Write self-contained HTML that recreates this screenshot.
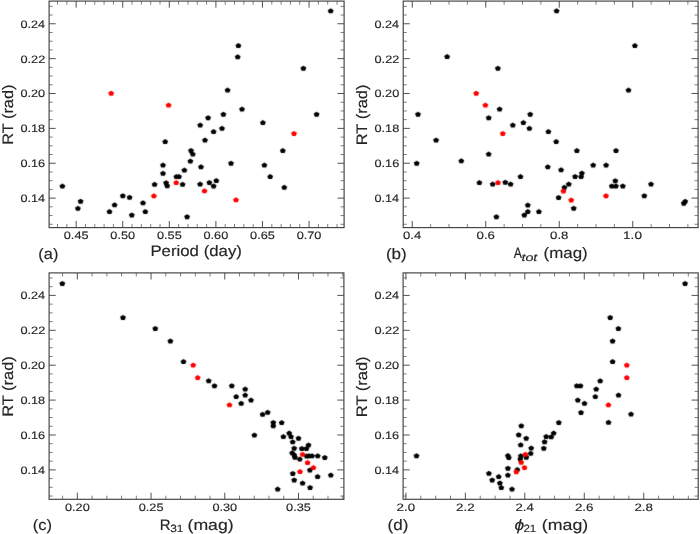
<!DOCTYPE html>
<html><head><meta charset="utf-8"><style>
html,body{margin:0;padding:0;background:#fff;overflow:hidden;}
svg{display:block;font-family:"Liberation Sans",sans-serif;will-change:transform;text-rendering:geometricPrecision;}
</style></head><body><svg width="700" height="534" viewBox="0 0 700 534"><defs><filter id="bl" x="0" y="0" width="700" height="534" filterUnits="userSpaceOnUse" color-interpolation-filters="sRGB"><feConvolveMatrix order="3" kernelMatrix="0.01134 0.08382 0.01134 0.08382 0.61935 0.08382 0.01134 0.08382 0.01134" divisor="1" edgeMode="duplicate"/></filter></defs><rect width="700" height="534" fill="#fff"/><path d="M76.15 227.60V221.00M76.15 1.10V7.70M122.73 227.60V221.00M122.73 1.10V7.70M169.31 227.60V221.00M169.31 1.10V7.70M215.90 227.60V221.00M215.90 1.10V7.70M262.48 227.60V221.00M262.48 1.10V7.70M309.07 227.60V221.00M309.07 1.10V7.70M49.10 198.12H55.70M344.10 198.12H337.50M49.10 163.25H55.70M344.10 163.25H337.50M49.10 128.38H55.70M344.10 128.38H337.50M49.10 93.50H55.70M344.10 93.50H337.50M49.10 58.63H55.70M344.10 58.63H337.50M49.10 23.76H55.70M344.10 23.76H337.50" stroke="#333" stroke-width="0.85" fill="none"/><path d="M57.51 227.60V224.00M57.51 1.10V4.70M66.83 227.60V224.00M66.83 1.10V4.70M85.46 227.60V224.00M85.46 1.10V4.70M94.78 227.60V224.00M94.78 1.10V4.70M104.10 227.60V224.00M104.10 1.10V4.70M113.41 227.60V224.00M113.41 1.10V4.70M132.05 227.60V224.00M132.05 1.10V4.70M141.36 227.60V224.00M141.36 1.10V4.70M150.68 227.60V224.00M150.68 1.10V4.70M160.00 227.60V224.00M160.00 1.10V4.70M178.63 227.60V224.00M178.63 1.10V4.70M187.95 227.60V224.00M187.95 1.10V4.70M197.26 227.60V224.00M197.26 1.10V4.70M206.58 227.60V224.00M206.58 1.10V4.70M225.21 227.60V224.00M225.21 1.10V4.70M234.53 227.60V224.00M234.53 1.10V4.70M243.85 227.60V224.00M243.85 1.10V4.70M253.17 227.60V224.00M253.17 1.10V4.70M271.80 227.60V224.00M271.80 1.10V4.70M281.12 227.60V224.00M281.12 1.10V4.70M290.43 227.60V224.00M290.43 1.10V4.70M299.75 227.60V224.00M299.75 1.10V4.70M318.38 227.60V224.00M318.38 1.10V4.70M327.70 227.60V224.00M327.70 1.10V4.70M337.02 227.60V224.00M337.02 1.10V4.70M49.10 224.27H52.70M344.10 224.27H340.50M49.10 215.55H52.70M344.10 215.55H340.50M49.10 206.84H52.70M344.10 206.84H340.50M49.10 189.40H52.70M344.10 189.40H340.50M49.10 180.68H52.70M344.10 180.68H340.50M49.10 171.97H52.70M344.10 171.97H340.50M49.10 154.53H52.70M344.10 154.53H340.50M49.10 145.81H52.70M344.10 145.81H340.50M49.10 137.09H52.70M344.10 137.09H340.50M49.10 119.66H52.70M344.10 119.66H340.50M49.10 110.94H52.70M344.10 110.94H340.50M49.10 102.22H52.70M344.10 102.22H340.50M49.10 84.79H52.70M344.10 84.79H340.50M49.10 76.07H52.70M344.10 76.07H340.50M49.10 67.35H52.70M344.10 67.35H340.50M49.10 49.91H52.70M344.10 49.91H340.50M49.10 41.20H52.70M344.10 41.20H340.50M49.10 32.48H52.70M344.10 32.48H340.50M49.10 15.04H52.70M344.10 15.04H340.50M49.10 6.33H52.70M344.10 6.33H340.50" stroke="#555" stroke-width="0.75" fill="none"/><g filter="url(#bl)"><polygon points="330.70,8.28 333.65,10.20 332.52,13.32 328.88,13.32 327.75,10.20" fill="#000"/><polygon points="238.40,43.08 241.35,45.00 240.22,48.12 236.58,48.12 235.45,45.00" fill="#000"/><polygon points="237.70,54.28 240.65,56.20 239.52,59.32 235.88,59.32 234.75,56.20" fill="#000"/><polygon points="303.40,65.68 306.35,67.60 305.22,70.72 301.58,70.72 300.45,67.60" fill="#000"/><polygon points="227.60,87.48 230.55,89.40 229.42,92.52 225.78,92.52 224.65,89.40" fill="#000"/><polygon points="242.00,106.58 244.95,108.50 243.82,111.62 240.18,111.62 239.05,108.50" fill="#000"/><polygon points="62.40,183.48 65.35,185.40 64.22,188.52 60.58,188.52 59.45,185.40" fill="#000"/><polygon points="80.60,198.68 83.55,200.60 82.42,203.72 78.78,203.72 77.65,200.60" fill="#000"/><polygon points="77.90,205.78 80.85,207.70 79.72,210.82 76.08,210.82 74.95,207.70" fill="#000"/><polygon points="109.50,209.08 112.45,211.00 111.32,214.12 107.68,214.12 106.55,211.00" fill="#000"/><polygon points="114.60,202.28 117.55,204.20 116.42,207.32 112.78,207.32 111.65,204.20" fill="#000"/><polygon points="122.80,193.18 125.75,195.10 124.62,198.22 120.98,198.22 119.85,195.10" fill="#000"/><polygon points="129.60,194.78 132.55,196.70 131.42,199.82 127.78,199.82 126.65,196.70" fill="#000"/><polygon points="131.80,212.38 134.75,214.30 133.62,217.42 129.98,217.42 128.85,214.30" fill="#000"/><polygon points="143.00,200.28 145.95,202.20 144.82,205.32 141.18,205.32 140.05,202.20" fill="#000"/><polygon points="145.30,209.08 148.25,211.00 147.12,214.12 143.48,214.12 142.35,211.00" fill="#000"/><polygon points="154.60,181.78 157.55,183.70 156.42,186.82 152.78,186.82 151.65,183.70" fill="#000"/><polygon points="165.20,139.08 168.15,141.00 167.02,144.12 163.38,144.12 162.25,141.00" fill="#000"/><polygon points="163.00,162.58 165.95,164.50 164.82,167.62 161.18,167.62 160.05,164.50" fill="#000"/><polygon points="163.00,170.78 165.95,172.70 164.82,175.82 161.18,175.82 160.05,172.70" fill="#000"/><polygon points="166.10,180.18 169.05,182.10 167.92,185.22 164.28,185.22 163.15,182.10" fill="#000"/><polygon points="167.20,183.18 170.15,185.10 169.02,188.22 165.38,188.22 164.25,185.10" fill="#000"/><polygon points="176.40,173.98 179.35,175.90 178.22,179.02 174.58,179.02 173.45,175.90" fill="#000"/><polygon points="179.00,173.98 181.95,175.90 180.82,179.02 177.18,179.02 176.05,175.90" fill="#000"/><polygon points="182.60,181.78 185.55,183.70 184.42,186.82 180.78,186.82 179.65,183.70" fill="#000"/><polygon points="184.40,167.48 187.35,169.40 186.22,172.52 182.58,172.52 181.45,169.40" fill="#000"/><polygon points="191.00,147.88 193.95,149.80 192.82,152.92 189.18,152.92 188.05,149.80" fill="#000"/><polygon points="192.80,151.48 195.75,153.40 194.62,156.52 190.98,156.52 189.85,153.40" fill="#000"/><polygon points="190.40,158.48 193.35,160.40 192.22,163.52 188.58,163.52 187.45,160.40" fill="#000"/><polygon points="187.10,214.18 190.05,216.10 188.92,219.22 185.28,219.22 184.15,216.10" fill="#000"/><polygon points="223.40,111.68 226.35,113.60 225.22,116.72 221.58,116.72 220.45,113.60" fill="#000"/><polygon points="208.10,115.18 211.05,117.10 209.92,120.22 206.28,120.22 205.15,117.10" fill="#000"/><polygon points="200.20,122.48 203.15,124.40 202.02,127.52 198.38,127.52 197.25,124.40" fill="#000"/><polygon points="213.60,129.08 216.55,131.00 215.42,134.12 211.78,134.12 210.65,131.00" fill="#000"/><polygon points="222.00,125.78 224.95,127.70 223.82,130.82 220.18,130.82 219.05,127.70" fill="#000"/><polygon points="205.00,137.48 207.95,139.40 206.82,142.52 203.18,142.52 202.05,139.40" fill="#000"/><polygon points="262.90,120.08 265.85,122.00 264.72,125.12 261.08,125.12 259.95,122.00" fill="#000"/><polygon points="316.60,111.68 319.55,113.60 318.42,116.72 314.78,116.72 313.65,113.60" fill="#000"/><polygon points="282.80,148.08 285.75,150.00 284.62,153.12 280.98,153.12 279.85,150.00" fill="#000"/><polygon points="201.00,164.28 203.95,166.20 202.82,169.32 199.18,169.32 198.05,166.20" fill="#000"/><polygon points="231.00,160.68 233.95,162.60 232.82,165.72 229.18,165.72 228.05,162.60" fill="#000"/><polygon points="264.40,162.48 267.35,164.40 266.22,167.52 262.58,167.52 261.45,164.40" fill="#000"/><polygon points="270.20,173.98 273.15,175.90 272.02,179.02 268.38,179.02 267.25,175.90" fill="#000"/><polygon points="284.30,184.78 287.25,186.70 286.12,189.82 282.48,189.82 281.35,186.70" fill="#000"/><polygon points="200.10,181.48 203.05,183.40 201.92,186.52 198.28,186.52 197.15,183.40" fill="#000"/><polygon points="209.40,179.88 212.35,181.80 211.22,184.92 207.58,184.92 206.45,181.80" fill="#000"/><polygon points="213.60,183.38 216.55,185.30 215.42,188.42 211.78,188.42 210.65,185.30" fill="#000"/><polygon points="216.30,178.08 219.25,180.00 218.12,183.12 214.48,183.12 213.35,180.00" fill="#000"/><polygon points="111.20,90.68 114.15,92.60 113.02,95.72 109.38,95.72 108.25,92.60" fill="#f00"/><polygon points="168.60,102.48 171.55,104.40 170.42,107.52 166.78,107.52 165.65,104.40" fill="#f00"/><polygon points="153.90,193.28 156.85,195.20 155.72,198.32 152.08,198.32 150.95,195.20" fill="#f00"/><polygon points="176.20,179.98 179.15,181.90 178.02,185.02 174.38,185.02 173.25,181.90" fill="#f00"/><polygon points="294.00,130.88 296.95,132.80 295.82,135.92 292.18,135.92 291.05,132.80" fill="#f00"/><polygon points="204.50,188.28 207.45,190.20 206.32,193.32 202.68,193.32 201.55,190.20" fill="#f00"/><polygon points="236.00,197.28 238.95,199.20 237.82,202.32 234.18,202.32 233.05,199.20" fill="#f00"/></g><rect x="49.10" y="1.10" width="295.00" height="226.50" fill="none" stroke="#404040" stroke-width="1.15"/><g font-size="10.8" fill="#262626" stroke="#262626" stroke-width="0.15"><text x="63.77" y="238.90" textLength="24.78" lengthAdjust="spacingAndGlyphs">0.45</text><text x="110.36" y="238.90" textLength="24.74" lengthAdjust="spacingAndGlyphs">0.50</text><text x="156.94" y="238.90" textLength="24.78" lengthAdjust="spacingAndGlyphs">0.55</text><text x="203.53" y="238.90" textLength="24.74" lengthAdjust="spacingAndGlyphs">0.60</text><text x="250.11" y="238.90" textLength="24.78" lengthAdjust="spacingAndGlyphs">0.65</text><text x="296.69" y="238.90" textLength="24.74" lengthAdjust="spacingAndGlyphs">0.70</text><text x="20.41" y="202.02" textLength="24.56" lengthAdjust="spacingAndGlyphs">0.14</text><text x="20.40" y="167.15" textLength="24.76" lengthAdjust="spacingAndGlyphs">0.16</text><text x="20.40" y="132.28" textLength="24.75" lengthAdjust="spacingAndGlyphs">0.18</text><text x="20.40" y="97.40" textLength="24.69" lengthAdjust="spacingAndGlyphs">0.20</text><text x="20.40" y="62.53" textLength="24.84" lengthAdjust="spacingAndGlyphs">0.22</text><text x="20.41" y="27.66" textLength="24.56" lengthAdjust="spacingAndGlyphs">0.24</text></g><path d="M412.25 227.60V221.00M412.25 1.10V7.70M485.75 227.60V221.00M485.75 1.10V7.70M559.26 227.60V221.00M559.26 1.10V7.70M632.76 227.60V221.00M632.76 1.10V7.70M403.20 198.12H409.80M698.10 198.12H691.50M403.20 163.25H409.80M698.10 163.25H691.50M403.20 128.38H409.80M698.10 128.38H691.50M403.20 93.50H409.80M698.10 93.50H691.50M403.20 58.63H409.80M698.10 58.63H691.50M403.20 23.76H409.80M698.10 23.76H691.50" stroke="#333" stroke-width="0.85" fill="none"/><path d="M430.62 227.60V224.00M430.62 1.10V4.70M449.00 227.60V224.00M449.00 1.10V4.70M467.38 227.60V224.00M467.38 1.10V4.70M504.13 227.60V224.00M504.13 1.10V4.70M522.50 227.60V224.00M522.50 1.10V4.70M540.88 227.60V224.00M540.88 1.10V4.70M577.63 227.60V224.00M577.63 1.10V4.70M596.01 227.60V224.00M596.01 1.10V4.70M614.38 227.60V224.00M614.38 1.10V4.70M651.14 227.60V224.00M651.14 1.10V4.70M669.51 227.60V224.00M669.51 1.10V4.70M687.89 227.60V224.00M687.89 1.10V4.70M403.20 224.27H406.80M698.10 224.27H694.50M403.20 215.55H406.80M698.10 215.55H694.50M403.20 206.84H406.80M698.10 206.84H694.50M403.20 189.40H406.80M698.10 189.40H694.50M403.20 180.68H406.80M698.10 180.68H694.50M403.20 171.97H406.80M698.10 171.97H694.50M403.20 154.53H406.80M698.10 154.53H694.50M403.20 145.81H406.80M698.10 145.81H694.50M403.20 137.09H406.80M698.10 137.09H694.50M403.20 119.66H406.80M698.10 119.66H694.50M403.20 110.94H406.80M698.10 110.94H694.50M403.20 102.22H406.80M698.10 102.22H694.50M403.20 84.79H406.80M698.10 84.79H694.50M403.20 76.07H406.80M698.10 76.07H694.50M403.20 67.35H406.80M698.10 67.35H694.50M403.20 49.91H406.80M698.10 49.91H694.50M403.20 41.20H406.80M698.10 41.20H694.50M403.20 32.48H406.80M698.10 32.48H694.50M403.20 15.04H406.80M698.10 15.04H694.50M403.20 6.33H406.80M698.10 6.33H694.50" stroke="#555" stroke-width="0.75" fill="none"/><g filter="url(#bl)"><polygon points="447.10,54.08 450.05,56.00 448.92,59.12 445.28,59.12 444.15,56.00" fill="#000"/><polygon points="497.90,65.68 500.85,67.60 499.72,70.72 496.08,70.72 494.95,67.60" fill="#000"/><polygon points="499.60,106.58 502.55,108.50 501.42,111.62 497.78,111.62 496.65,108.50" fill="#000"/><polygon points="556.60,8.28 559.55,10.20 558.42,13.32 554.78,13.32 553.65,10.20" fill="#000"/><polygon points="634.90,43.08 637.85,45.00 636.72,48.12 633.08,48.12 631.95,45.00" fill="#000"/><polygon points="628.50,87.48 631.45,89.40 630.32,92.52 626.68,92.52 625.55,89.40" fill="#000"/><polygon points="418.00,111.68 420.95,113.60 419.82,116.72 416.18,116.72 415.05,113.60" fill="#000"/><polygon points="488.70,115.18 491.65,117.10 490.52,120.22 486.88,120.22 485.75,117.10" fill="#000"/><polygon points="530.20,111.68 533.15,113.60 532.02,116.72 528.38,116.72 527.25,113.60" fill="#000"/><polygon points="512.80,122.48 515.75,124.40 514.62,127.52 510.98,127.52 509.85,124.40" fill="#000"/><polygon points="523.40,120.08 526.35,122.00 525.22,125.12 521.58,125.12 520.45,122.00" fill="#000"/><polygon points="529.40,125.78 532.35,127.70 531.22,130.82 527.58,130.82 526.45,127.70" fill="#000"/><polygon points="548.40,129.08 551.35,131.00 550.22,134.12 546.58,134.12 545.45,131.00" fill="#000"/><polygon points="436.10,137.48 439.05,139.40 437.92,142.52 434.28,142.52 433.15,139.40" fill="#000"/><polygon points="488.70,151.48 491.65,153.40 490.52,156.52 486.88,156.52 485.75,153.40" fill="#000"/><polygon points="416.70,160.68 419.65,162.60 418.52,165.72 414.88,165.72 413.75,162.60" fill="#000"/><polygon points="461.30,158.28 464.25,160.20 463.12,163.32 459.48,163.32 458.35,160.20" fill="#000"/><polygon points="547.80,164.28 550.75,166.20 549.62,169.32 545.98,169.32 544.85,166.20" fill="#000"/><polygon points="520.50,173.98 523.45,175.90 522.32,179.02 518.68,179.02 517.55,175.90" fill="#000"/><polygon points="479.40,179.98 482.35,181.90 481.22,185.02 477.58,185.02 476.45,181.90" fill="#000"/><polygon points="492.70,181.48 495.65,183.40 494.52,186.52 490.88,186.52 489.75,183.40" fill="#000"/><polygon points="505.30,179.68 508.25,181.60 507.12,184.72 503.48,184.72 502.35,181.60" fill="#000"/><polygon points="510.60,181.48 513.55,183.40 512.42,186.52 508.78,186.52 507.65,183.40" fill="#000"/><polygon points="527.80,202.48 530.75,204.40 529.62,207.52 525.98,207.52 524.85,204.40" fill="#000"/><polygon points="527.80,209.08 530.75,211.00 529.62,214.12 525.98,214.12 524.85,211.00" fill="#000"/><polygon points="524.30,212.38 527.25,214.30 526.12,217.42 522.48,217.42 521.35,214.30" fill="#000"/><polygon points="538.90,209.08 541.85,211.00 540.72,214.12 537.08,214.12 535.95,211.00" fill="#000"/><polygon points="496.40,214.18 499.35,216.10 498.22,219.22 494.58,219.22 493.45,216.10" fill="#000"/><polygon points="556.20,139.08 559.15,141.00 558.02,144.12 554.38,144.12 553.25,141.00" fill="#000"/><polygon points="576.90,148.08 579.85,150.00 578.72,153.12 575.08,153.12 573.95,150.00" fill="#000"/><polygon points="616.00,148.08 618.95,150.00 617.82,153.12 614.18,153.12 613.05,150.00" fill="#000"/><polygon points="561.10,167.28 564.05,169.20 562.92,172.32 559.28,172.32 558.15,169.20" fill="#000"/><polygon points="593.20,162.48 596.15,164.40 595.02,167.52 591.38,167.52 590.25,164.40" fill="#000"/><polygon points="606.10,162.48 609.05,164.40 607.92,167.52 604.28,167.52 603.15,164.40" fill="#000"/><polygon points="575.10,173.88 578.05,175.80 576.92,178.92 573.28,178.92 572.15,175.80" fill="#000"/><polygon points="581.90,170.48 584.85,172.40 583.72,175.52 580.08,175.52 578.95,172.40" fill="#000"/><polygon points="581.10,173.98 584.05,175.90 582.92,179.02 579.28,179.02 578.15,175.90" fill="#000"/><polygon points="568.80,181.48 571.75,183.40 570.62,186.52 566.98,186.52 565.85,183.40" fill="#000"/><polygon points="564.40,184.78 567.35,186.70 566.22,189.82 562.58,189.82 561.45,186.70" fill="#000"/><polygon points="558.60,194.88 561.55,196.80 560.42,199.92 556.78,199.92 555.65,196.80" fill="#000"/><polygon points="573.70,205.68 576.65,207.60 575.52,210.72 571.88,210.72 570.75,207.60" fill="#000"/><polygon points="615.30,178.18 618.25,180.10 617.12,183.22 613.48,183.22 612.35,180.10" fill="#000"/><polygon points="611.80,183.38 614.75,185.30 613.62,188.42 609.98,188.42 608.85,185.30" fill="#000"/><polygon points="615.90,183.38 618.85,185.30 617.72,188.42 614.08,188.42 612.95,185.30" fill="#000"/><polygon points="622.80,183.38 625.75,185.30 624.62,188.42 620.98,188.42 619.85,185.30" fill="#000"/><polygon points="651.00,181.58 653.95,183.50 652.82,186.62 649.18,186.62 648.05,183.50" fill="#000"/><polygon points="644.30,193.18 647.25,195.10 646.12,198.22 642.48,198.22 641.35,195.10" fill="#000"/><polygon points="683.80,200.68 686.75,202.60 685.62,205.72 681.98,205.72 680.85,202.60" fill="#000"/><polygon points="685.20,198.78 688.15,200.70 687.02,203.82 683.38,203.82 682.25,200.70" fill="#000"/><polygon points="476.20,90.68 479.15,92.60 478.02,95.72 474.38,95.72 473.25,92.60" fill="#f00"/><polygon points="485.40,102.48 488.35,104.40 487.22,107.52 483.58,107.52 482.45,104.40" fill="#f00"/><polygon points="502.80,130.88 505.75,132.80 504.62,135.92 500.98,135.92 499.85,132.80" fill="#f00"/><polygon points="498.00,179.98 500.95,181.90 499.82,185.02 496.18,185.02 495.05,181.90" fill="#f00"/><polygon points="563.40,188.38 566.35,190.30 565.22,193.42 561.58,193.42 560.45,190.30" fill="#f00"/><polygon points="571.20,197.38 574.15,199.30 573.02,202.42 569.38,202.42 568.25,199.30" fill="#f00"/><polygon points="606.00,193.18 608.95,195.10 607.82,198.22 604.18,198.22 603.05,195.10" fill="#f00"/></g><rect x="403.20" y="1.10" width="294.90" height="226.50" fill="none" stroke="#404040" stroke-width="1.15"/><g font-size="10.8" fill="#262626" stroke="#262626" stroke-width="0.15"><text x="403.09" y="238.90" textLength="18.19" lengthAdjust="spacingAndGlyphs">0.4</text><text x="476.59" y="238.90" textLength="18.40" lengthAdjust="spacingAndGlyphs">0.6</text><text x="550.09" y="238.90" textLength="18.39" lengthAdjust="spacingAndGlyphs">0.8</text><text x="623.08" y="238.90" textLength="18.86" lengthAdjust="spacingAndGlyphs">1.0</text><text x="374.51" y="202.02" textLength="24.56" lengthAdjust="spacingAndGlyphs">0.14</text><text x="374.50" y="167.15" textLength="24.76" lengthAdjust="spacingAndGlyphs">0.16</text><text x="374.50" y="132.28" textLength="24.75" lengthAdjust="spacingAndGlyphs">0.18</text><text x="374.50" y="97.40" textLength="24.69" lengthAdjust="spacingAndGlyphs">0.20</text><text x="374.50" y="62.53" textLength="24.84" lengthAdjust="spacingAndGlyphs">0.22</text><text x="374.51" y="27.66" textLength="24.56" lengthAdjust="spacingAndGlyphs">0.24</text></g><path d="M77.34 499.30V492.70M77.34 272.90V279.50M151.06 499.30V492.70M151.06 272.90V279.50M224.78 499.30V492.70M224.78 272.90V279.50M298.49 499.30V492.70M298.49 272.90V279.50M49.10 469.88H55.70M343.90 469.88H337.30M49.10 434.99H55.70M343.90 434.99H337.30M49.10 400.09H55.70M343.90 400.09H337.30M49.10 365.20H55.70M343.90 365.20H337.30M49.10 330.30H55.70M343.90 330.30H337.30M49.10 295.41H55.70M343.90 295.41H337.30" stroke="#333" stroke-width="0.85" fill="none"/><path d="M62.60 499.30V495.70M62.60 272.90V276.50M92.09 499.30V495.70M92.09 272.90V276.50M106.83 499.30V495.70M106.83 272.90V276.50M121.57 499.30V495.70M121.57 272.90V276.50M136.32 499.30V495.70M136.32 272.90V276.50M165.80 499.30V495.70M165.80 272.90V276.50M180.55 499.30V495.70M180.55 272.90V276.50M195.29 499.30V495.70M195.29 272.90V276.50M210.03 499.30V495.70M210.03 272.90V276.50M239.52 499.30V495.70M239.52 272.90V276.50M254.26 499.30V495.70M254.26 272.90V276.50M269.01 499.30V495.70M269.01 272.90V276.50M283.75 499.30V495.70M283.75 272.90V276.50M313.24 499.30V495.70M313.24 272.90V276.50M327.98 499.30V495.70M327.98 272.90V276.50M342.72 499.30V495.70M342.72 272.90V276.50M49.10 496.06H52.70M343.90 496.06H340.30M49.10 487.33H52.70M343.90 487.33H340.30M49.10 478.61H52.70M343.90 478.61H340.30M49.10 461.16H52.70M343.90 461.16H340.30M49.10 452.44H52.70M343.90 452.44H340.30M49.10 443.71H52.70M343.90 443.71H340.30M49.10 426.27H52.70M343.90 426.27H340.30M49.10 417.54H52.70M343.90 417.54H340.30M49.10 408.82H52.70M343.90 408.82H340.30M49.10 391.37H52.70M343.90 391.37H340.30M49.10 382.65H52.70M343.90 382.65H340.30M49.10 373.92H52.70M343.90 373.92H340.30M49.10 356.48H52.70M343.90 356.48H340.30M49.10 347.75H52.70M343.90 347.75H340.30M49.10 339.03H52.70M343.90 339.03H340.30M49.10 321.58H52.70M343.90 321.58H340.30M49.10 312.86H52.70M343.90 312.86H340.30M49.10 304.13H52.70M343.90 304.13H340.30M49.10 286.69H52.70M343.90 286.69H340.30M49.10 277.96H52.70M343.90 277.96H340.30" stroke="#555" stroke-width="0.75" fill="none"/><g filter="url(#bl)"><polygon points="62.30,280.88 65.25,282.80 64.12,285.92 60.48,285.92 59.35,282.80" fill="#000"/><polygon points="123.00,314.88 125.95,316.80 124.82,319.92 121.18,319.92 120.05,316.80" fill="#000"/><polygon points="155.30,325.88 158.25,327.80 157.12,330.92 153.48,330.92 152.35,327.80" fill="#000"/><polygon points="170.40,338.38 173.35,340.30 172.22,343.42 168.58,343.42 167.45,340.30" fill="#000"/><polygon points="183.50,358.98 186.45,360.90 185.32,364.02 181.68,364.02 180.55,360.90" fill="#000"/><polygon points="208.70,378.18 211.65,380.10 210.52,383.22 206.88,383.22 205.75,380.10" fill="#000"/><polygon points="214.50,383.18 217.45,385.10 216.32,388.22 212.68,388.22 211.55,385.10" fill="#000"/><polygon points="231.80,383.18 234.75,385.10 233.62,388.22 229.98,388.22 228.85,385.10" fill="#000"/><polygon points="245.20,386.48 248.15,388.40 247.02,391.52 243.38,391.52 242.25,388.40" fill="#000"/><polygon points="245.20,392.48 248.15,394.40 247.02,397.52 243.38,397.52 242.25,394.40" fill="#000"/><polygon points="236.20,393.98 239.15,395.90 238.02,399.02 234.38,399.02 233.25,395.90" fill="#000"/><polygon points="251.00,397.48 253.95,399.40 252.82,402.52 249.18,402.52 248.05,399.40" fill="#000"/><polygon points="241.20,400.78 244.15,402.70 243.02,405.82 239.38,405.82 238.25,402.70" fill="#000"/><polygon points="262.60,411.78 265.55,413.70 264.42,416.82 260.78,416.82 259.65,413.70" fill="#000"/><polygon points="267.70,409.78 270.65,411.70 269.52,414.82 265.88,414.82 264.75,411.70" fill="#000"/><polygon points="273.30,419.88 276.25,421.80 275.12,424.92 271.48,424.92 270.35,421.80" fill="#000"/><polygon points="273.30,423.28 276.25,425.20 275.12,428.32 271.48,428.32 270.35,425.20" fill="#000"/><polygon points="281.70,420.08 284.65,422.00 283.52,425.12 279.88,425.12 278.75,422.00" fill="#000"/><polygon points="254.40,432.48 257.35,434.40 256.22,437.52 252.58,437.52 251.45,434.40" fill="#000"/><polygon points="283.40,434.08 286.35,436.00 285.22,439.12 281.58,439.12 280.45,436.00" fill="#000"/><polygon points="289.20,430.58 292.15,432.50 291.02,435.62 287.38,435.62 286.25,432.50" fill="#000"/><polygon points="291.00,433.98 293.95,435.90 292.82,439.02 289.18,439.02 288.05,435.90" fill="#000"/><polygon points="298.50,435.68 301.45,437.60 300.32,440.72 296.68,440.72 295.55,437.60" fill="#000"/><polygon points="292.70,439.28 295.65,441.20 294.52,444.32 290.88,444.32 289.75,441.20" fill="#000"/><polygon points="308.50,442.38 311.45,444.30 310.32,447.42 306.68,447.42 305.55,444.30" fill="#000"/><polygon points="301.80,445.88 304.75,447.80 303.62,450.92 299.98,450.92 298.85,447.80" fill="#000"/><polygon points="306.40,445.88 309.35,447.80 308.22,450.92 304.58,450.92 303.45,447.80" fill="#000"/><polygon points="294.20,445.68 297.15,447.60 296.02,450.72 292.38,450.72 291.25,447.60" fill="#000"/><polygon points="292.20,450.28 295.15,452.20 294.02,455.32 290.38,455.32 289.25,452.20" fill="#000"/><polygon points="294.20,452.28 297.15,454.20 296.02,457.32 292.38,457.32 291.25,454.20" fill="#000"/><polygon points="294.90,454.68 297.85,456.60 296.72,459.72 293.08,459.72 291.95,456.60" fill="#000"/><polygon points="299.80,456.58 302.75,458.50 301.62,461.62 297.98,461.62 296.85,458.50" fill="#000"/><polygon points="306.70,453.58 309.65,455.50 308.52,458.62 304.88,458.62 303.75,455.50" fill="#000"/><polygon points="309.00,453.28 311.95,455.20 310.82,458.32 307.18,458.32 306.05,455.20" fill="#000"/><polygon points="312.00,453.28 314.95,455.20 313.82,458.32 310.18,458.32 309.05,455.20" fill="#000"/><polygon points="317.70,453.28 320.65,455.20 319.52,458.32 315.88,458.32 314.75,455.20" fill="#000"/><polygon points="324.80,454.88 327.75,456.80 326.62,459.92 322.98,459.92 321.85,456.80" fill="#000"/><polygon points="309.90,467.38 312.85,469.30 311.72,472.42 308.08,472.42 306.95,469.30" fill="#000"/><polygon points="292.80,470.88 295.75,472.80 294.62,475.92 290.98,475.92 289.85,472.80" fill="#000"/><polygon points="330.80,472.58 333.75,474.50 332.62,477.62 328.98,477.62 327.85,474.50" fill="#000"/><polygon points="317.60,474.08 320.55,476.00 319.42,479.12 315.78,479.12 314.65,476.00" fill="#000"/><polygon points="294.20,477.38 297.15,479.30 296.02,482.42 292.38,482.42 291.25,479.30" fill="#000"/><polygon points="302.60,480.58 305.55,482.50 304.42,485.62 300.78,485.62 299.65,482.50" fill="#000"/><polygon points="310.10,484.88 313.05,486.80 311.92,489.92 308.28,489.92 307.15,486.80" fill="#000"/><polygon points="277.70,486.48 280.65,488.40 279.52,491.52 275.88,491.52 274.75,488.40" fill="#000"/><polygon points="193.20,362.48 196.15,364.40 195.02,367.52 191.38,367.52 190.25,364.40" fill="#f00"/><polygon points="197.70,374.98 200.65,376.90 199.52,380.02 195.88,380.02 194.75,376.90" fill="#f00"/><polygon points="229.50,402.28 232.45,404.20 231.32,407.32 227.68,407.32 226.55,404.20" fill="#f00"/><polygon points="302.60,451.78 305.55,453.70 304.42,456.82 300.78,456.82 299.65,453.70" fill="#f00"/><polygon points="307.60,460.08 310.55,462.00 309.42,465.12 305.78,465.12 304.65,462.00" fill="#f00"/><polygon points="313.40,465.08 316.35,467.00 315.22,470.12 311.58,470.12 310.45,467.00" fill="#f00"/><polygon points="300.00,469.08 302.95,471.00 301.82,474.12 298.18,474.12 297.05,471.00" fill="#f00"/></g><rect x="49.10" y="272.90" width="294.80" height="226.40" fill="none" stroke="#404040" stroke-width="1.15"/><g font-size="10.8" fill="#262626" stroke="#262626" stroke-width="0.15"><text x="64.97" y="510.60" textLength="24.74" lengthAdjust="spacingAndGlyphs">0.20</text><text x="138.69" y="510.60" textLength="24.78" lengthAdjust="spacingAndGlyphs">0.25</text><text x="212.40" y="510.60" textLength="24.74" lengthAdjust="spacingAndGlyphs">0.30</text><text x="286.12" y="510.60" textLength="24.78" lengthAdjust="spacingAndGlyphs">0.35</text><text x="20.41" y="473.78" textLength="24.56" lengthAdjust="spacingAndGlyphs">0.14</text><text x="20.40" y="438.89" textLength="24.76" lengthAdjust="spacingAndGlyphs">0.16</text><text x="20.40" y="403.99" textLength="24.75" lengthAdjust="spacingAndGlyphs">0.18</text><text x="20.40" y="369.10" textLength="24.69" lengthAdjust="spacingAndGlyphs">0.20</text><text x="20.40" y="334.20" textLength="24.84" lengthAdjust="spacingAndGlyphs">0.22</text><text x="20.41" y="299.31" textLength="24.56" lengthAdjust="spacingAndGlyphs">0.24</text></g><path d="M405.92 499.30V492.70M405.92 272.90V279.50M465.37 499.30V492.70M465.37 272.90V279.50M524.82 499.30V492.70M524.82 272.90V279.50M584.28 499.30V492.70M584.28 272.90V279.50M643.73 499.30V492.70M643.73 272.90V279.50M403.10 469.88H409.70M698.20 469.88H691.60M403.10 434.99H409.70M698.20 434.99H691.60M403.10 400.09H409.70M698.20 400.09H691.60M403.10 365.20H409.70M698.20 365.20H691.60M403.10 330.30H409.70M698.20 330.30H691.60M403.10 295.41H409.70M698.20 295.41H691.60" stroke="#333" stroke-width="0.85" fill="none"/><path d="M420.78 499.30V495.70M420.78 272.90V276.50M435.65 499.30V495.70M435.65 272.90V276.50M450.51 499.30V495.70M450.51 272.90V276.50M480.24 499.30V495.70M480.24 272.90V276.50M495.10 499.30V495.70M495.10 272.90V276.50M509.96 499.30V495.70M509.96 272.90V276.50M539.69 499.30V495.70M539.69 272.90V276.50M554.55 499.30V495.70M554.55 272.90V276.50M569.41 499.30V495.70M569.41 272.90V276.50M599.14 499.30V495.70M599.14 272.90V276.50M614.00 499.30V495.70M614.00 272.90V276.50M628.86 499.30V495.70M628.86 272.90V276.50M658.59 499.30V495.70M658.59 272.90V276.50M673.45 499.30V495.70M673.45 272.90V276.50M688.32 499.30V495.70M688.32 272.90V276.50M403.10 496.06H406.70M698.20 496.06H694.60M403.10 487.33H406.70M698.20 487.33H694.60M403.10 478.61H406.70M698.20 478.61H694.60M403.10 461.16H406.70M698.20 461.16H694.60M403.10 452.44H406.70M698.20 452.44H694.60M403.10 443.71H406.70M698.20 443.71H694.60M403.10 426.27H406.70M698.20 426.27H694.60M403.10 417.54H406.70M698.20 417.54H694.60M403.10 408.82H406.70M698.20 408.82H694.60M403.10 391.37H406.70M698.20 391.37H694.60M403.10 382.65H406.70M698.20 382.65H694.60M403.10 373.92H406.70M698.20 373.92H694.60M403.10 356.48H406.70M698.20 356.48H694.60M403.10 347.75H406.70M698.20 347.75H694.60M403.10 339.03H406.70M698.20 339.03H694.60M403.10 321.58H406.70M698.20 321.58H694.60M403.10 312.86H406.70M698.20 312.86H694.60M403.10 304.13H406.70M698.20 304.13H694.60M403.10 286.69H406.70M698.20 286.69H694.60M403.10 277.96H406.70M698.20 277.96H694.60" stroke="#555" stroke-width="0.75" fill="none"/><g filter="url(#bl)"><polygon points="685.10,280.88 688.05,282.80 686.92,285.92 683.28,285.92 682.15,282.80" fill="#000"/><polygon points="610.20,314.88 613.15,316.80 612.02,319.92 608.38,319.92 607.25,316.80" fill="#000"/><polygon points="618.40,325.88 621.35,327.80 620.22,330.92 616.58,330.92 615.45,327.80" fill="#000"/><polygon points="612.60,338.38 615.55,340.30 614.42,343.42 610.78,343.42 609.65,340.30" fill="#000"/><polygon points="612.60,358.98 615.55,360.90 614.42,364.02 610.78,364.02 609.65,360.90" fill="#000"/><polygon points="600.20,378.28 603.15,380.20 602.02,383.32 598.38,383.32 597.25,380.20" fill="#000"/><polygon points="576.80,383.18 579.75,385.10 578.62,388.22 574.98,388.22 573.85,385.10" fill="#000"/><polygon points="580.50,383.18 583.45,385.10 582.32,388.22 578.68,388.22 577.55,385.10" fill="#000"/><polygon points="596.20,386.48 599.15,388.40 598.02,391.52 594.38,391.52 593.25,388.40" fill="#000"/><polygon points="595.30,393.98 598.25,395.90 597.12,399.02 593.48,399.02 592.35,395.90" fill="#000"/><polygon points="618.50,392.48 621.45,394.40 620.32,397.52 616.68,397.52 615.55,394.40" fill="#000"/><polygon points="577.80,397.48 580.75,399.40 579.62,402.52 575.98,402.52 574.85,399.40" fill="#000"/><polygon points="584.50,400.78 587.45,402.70 586.32,405.82 582.68,405.82 581.55,402.70" fill="#000"/><polygon points="581.00,409.88 583.95,411.80 582.82,414.92 579.18,414.92 578.05,411.80" fill="#000"/><polygon points="631.00,411.48 633.95,413.40 632.82,416.52 629.18,416.52 628.05,413.40" fill="#000"/><polygon points="608.50,419.78 611.45,421.70 610.32,424.82 606.68,424.82 605.55,421.70" fill="#000"/><polygon points="558.80,419.88 561.75,421.80 560.62,424.92 556.98,424.92 555.85,421.80" fill="#000"/><polygon points="553.70,430.58 556.65,432.50 555.52,435.62 551.88,435.62 550.75,432.50" fill="#000"/><polygon points="551.20,434.28 554.15,436.20 553.02,439.32 549.38,439.32 548.25,436.20" fill="#000"/><polygon points="546.20,433.88 549.15,435.80 548.02,438.92 544.38,438.92 543.25,435.80" fill="#000"/><polygon points="544.60,439.18 547.55,441.10 546.42,444.22 542.78,444.22 541.65,441.10" fill="#000"/><polygon points="543.80,445.68 546.75,447.60 545.62,450.72 541.98,450.72 540.85,447.60" fill="#000"/><polygon points="521.30,423.18 524.25,425.10 523.12,428.22 519.48,428.22 518.35,425.10" fill="#000"/><polygon points="518.70,432.18 521.65,434.10 520.52,437.22 516.88,437.22 515.75,434.10" fill="#000"/><polygon points="526.20,435.68 529.15,437.60 528.02,440.72 524.38,440.72 523.25,437.60" fill="#000"/><polygon points="520.70,442.28 523.65,444.20 522.52,447.32 518.88,447.32 517.75,444.20" fill="#000"/><polygon points="531.20,445.58 534.15,447.50 533.02,450.62 529.38,450.62 528.25,447.50" fill="#000"/><polygon points="530.70,450.78 533.65,452.70 532.52,455.82 528.88,455.82 527.75,452.70" fill="#000"/><polygon points="520.80,453.28 523.75,455.20 522.62,458.32 518.98,458.32 517.85,455.20" fill="#000"/><polygon points="507.90,453.08 510.85,455.00 509.72,458.12 506.08,458.12 504.95,455.00" fill="#000"/><polygon points="508.80,454.98 511.75,456.90 510.62,460.02 506.98,460.02 505.85,456.90" fill="#000"/><polygon points="526.30,454.68 529.25,456.60 528.12,459.72 524.48,459.72 523.35,456.60" fill="#000"/><polygon points="520.30,456.38 523.25,458.30 522.12,461.42 518.48,461.42 517.35,458.30" fill="#000"/><polygon points="507.90,465.68 510.85,467.60 509.72,470.72 506.08,470.72 504.95,467.60" fill="#000"/><polygon points="517.30,466.98 520.25,468.90 519.12,472.02 515.48,472.02 514.35,468.90" fill="#000"/><polygon points="488.90,470.78 491.85,472.70 490.72,475.82 487.08,475.82 485.95,472.70" fill="#000"/><polygon points="507.90,472.48 510.85,474.40 509.72,477.52 506.08,477.52 504.95,474.40" fill="#000"/><polygon points="498.70,474.08 501.65,476.00 500.52,479.12 496.88,479.12 495.75,476.00" fill="#000"/><polygon points="492.20,477.38 495.15,479.30 494.02,482.42 490.38,482.42 489.25,479.30" fill="#000"/><polygon points="499.90,480.38 502.85,482.30 501.72,485.42 498.08,485.42 496.95,482.30" fill="#000"/><polygon points="501.30,485.08 504.25,487.00 503.12,490.12 499.48,490.12 498.35,487.00" fill="#000"/><polygon points="512.00,486.48 514.95,488.40 513.82,491.52 510.18,491.52 509.05,488.40" fill="#000"/><polygon points="416.50,453.18 419.45,455.10 418.32,458.22 414.68,458.22 413.55,455.10" fill="#000"/><polygon points="626.80,362.48 629.75,364.40 628.62,367.52 624.98,367.52 623.85,364.40" fill="#f00"/><polygon points="626.80,375.08 629.75,377.00 628.62,380.12 624.98,380.12 623.85,377.00" fill="#f00"/><polygon points="608.40,402.28 611.35,404.20 610.22,407.32 606.58,407.32 605.45,404.20" fill="#f00"/><polygon points="525.40,451.78 528.35,453.70 527.22,456.82 523.58,456.82 522.45,453.70" fill="#f00"/><polygon points="521.20,459.78 524.15,461.70 523.02,464.82 519.38,464.82 518.25,461.70" fill="#f00"/><polygon points="524.50,464.98 527.45,466.90 526.32,470.02 522.68,470.02 521.55,466.90" fill="#f00"/><polygon points="516.30,469.18 519.25,471.10 518.12,474.22 514.48,474.22 513.35,471.10" fill="#f00"/></g><rect x="403.10" y="272.90" width="295.10" height="226.40" fill="none" stroke="#404040" stroke-width="1.15"/><g font-size="10.8" fill="#262626" stroke="#262626" stroke-width="0.15"><text x="396.60" y="510.60" textLength="18.49" lengthAdjust="spacingAndGlyphs">2.0</text><text x="456.05" y="510.60" textLength="18.65" lengthAdjust="spacingAndGlyphs">2.2</text><text x="515.51" y="510.60" textLength="18.35" lengthAdjust="spacingAndGlyphs">2.4</text><text x="574.95" y="510.60" textLength="18.56" lengthAdjust="spacingAndGlyphs">2.6</text><text x="634.41" y="510.60" textLength="18.55" lengthAdjust="spacingAndGlyphs">2.8</text><text x="374.41" y="473.78" textLength="24.56" lengthAdjust="spacingAndGlyphs">0.14</text><text x="374.40" y="438.89" textLength="24.76" lengthAdjust="spacingAndGlyphs">0.16</text><text x="374.40" y="403.99" textLength="24.75" lengthAdjust="spacingAndGlyphs">0.18</text><text x="374.40" y="369.10" textLength="24.69" lengthAdjust="spacingAndGlyphs">0.20</text><text x="374.40" y="334.20" textLength="24.84" lengthAdjust="spacingAndGlyphs">0.22</text><text x="374.41" y="299.31" textLength="24.56" lengthAdjust="spacingAndGlyphs">0.24</text></g><g fill="#262626" stroke="#262626" stroke-width="0.15"><text transform="translate(13.10,144.83) rotate(-90)" x="0" y="0" font-size="15.2" textLength="60.33" lengthAdjust="spacingAndGlyphs">RT (rad)</text><text transform="translate(366.90,145.24) rotate(-90)" x="0" y="0" font-size="15.2" textLength="60.65" lengthAdjust="spacingAndGlyphs">RT (rad)</text><text transform="translate(13.10,416.84) rotate(-90)" x="0" y="0" font-size="15.2" textLength="60.65" lengthAdjust="spacingAndGlyphs">RT (rad)</text><text transform="translate(366.90,417.14) rotate(-90)" x="0" y="0" font-size="15.2" textLength="60.75" lengthAdjust="spacingAndGlyphs">RT (rad)</text><text x="150.42" y="256.4" font-size="15.2" textLength="91.52" lengthAdjust="spacingAndGlyphs">Period (day)</text><text x="513.78" y="257.6" font-size="15.2" textLength="8.15" lengthAdjust="spacingAndGlyphs">A</text><text x="521.45" y="260.5" font-size="10.6" textLength="15.85" lengthAdjust="spacingAndGlyphs" font-style="italic">tot</text><text x="543.55" y="257.6" font-size="15.2" textLength="44.20" lengthAdjust="spacingAndGlyphs">(mag)</text><text x="159.87" y="530.1" font-size="15.2" textLength="10.82" lengthAdjust="spacingAndGlyphs">R</text><text x="170.25" y="532.0" font-size="10.6" textLength="13.23" lengthAdjust="spacingAndGlyphs">31</text><text x="187.50" y="530.1" font-size="15.2" textLength="46.19" lengthAdjust="spacingAndGlyphs">(mag)</text><text x="514.44" y="530.1" font-size="15.2" textLength="9.73" lengthAdjust="spacingAndGlyphs" font-style="italic">ϕ</text><text x="523.42" y="532.0" font-size="10.6" textLength="12.84" lengthAdjust="spacingAndGlyphs">21</text><text x="541.80" y="530.1" font-size="15.2" textLength="46.40" lengthAdjust="spacingAndGlyphs">(mag)</text><text x="38.38" y="258.5" font-size="15.2" textLength="20.03" lengthAdjust="spacingAndGlyphs">(a)</text><text x="385.94" y="258.5" font-size="15.2" textLength="20.81" lengthAdjust="spacingAndGlyphs">(b)</text><text x="32.67" y="530.3" font-size="15.2" textLength="19.36" lengthAdjust="spacingAndGlyphs">(c)</text><text x="387.64" y="530.3" font-size="15.2" textLength="20.81" lengthAdjust="spacingAndGlyphs">(d)</text></g></svg></body></html>
